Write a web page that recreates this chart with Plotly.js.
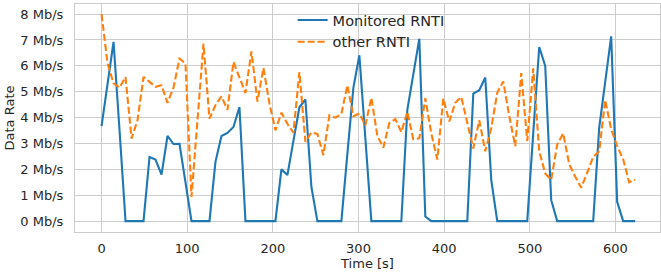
<!DOCTYPE html>
<html>
<head>
<meta charset="utf-8">
<script src="https://cdn.plot.ly/plotly-3.0.1.min.js"></script>
<style>html,body{margin:0;padding:0;background:#fff;}#chart{width:661px;height:274px;}</style>
</head>
<body>
<div id="chart"></div>
<script>
// Sampling: one value every 7 s
const times = [];
for (let i = 0; i < 90; i++) times.push(i * 7);

const monitoredRNTI = [
  3.67, 5.3, 6.93, 3.5, 0, 0, 0, 0, 2.48, 2.38,
  1.8, 3.29, 2.98, 2.99, 1.5, 0, 0, 0, 0, 2.29,
  3.29, 3.41, 3.64, 4.41, 0, 0, 0, 0, 0, 0,
  2.0, 1.78, 3.1, 4.4, 4.7, 1.32, 0, 0, 0, 0,
  0, 2.6, 5.15, 6.41, 3.2, 0, 0, 0, 0, 0,
  0, 4.3, 5.7, 7.05, 0.18, 0, 0, 0, 0, 0,
  0, 0, 4.93, 5.06, 5.55, 1.58, 0, 0, 0, 0,
  0, 0, 3.4, 6.73, 6.0, 0.81, 0, 0, 0, 0,
  0, 0, 0, 3.6, 5.4, 7.14, 0.75, 0, 0, 0
];

const otherRNTI = [
  8.0, 6.1, 5.32, 5.16, 5.57, 3.19, 3.9, 5.57, 5.38, 5.19,
  5.25, 4.57, 5.16, 6.28, 6.09, 0.94, 3.9, 6.86, 3.96, 4.48,
  4.82, 4.3, 6.15, 5.55, 4.95, 6.56, 4.62, 5.92, 4.55, 3.51,
  4.19, 3.76, 3.42, 5.76, 3.06, 3.43, 3.37, 2.55, 4.09, 4.0,
  4.14, 5.25, 4.05, 4.16, 3.7, 4.77, 3.3, 2.84, 3.79, 3.94,
  3.44, 4.22, 3.16, 3.2, 4.75, 3.38, 2.38, 4.74, 3.85, 4.57,
  4.8, 3.8, 2.81, 3.9, 2.7, 3.6, 4.96, 5.4, 4.06, 2.9,
  5.72, 3.1, 5.9, 2.7, 1.84, 1.6, 2.96, 3.39, 2.2, 1.72,
  1.29, 1.87, 2.48, 2.7, 4.68, 3.55, 2.9, 2.39, 1.5, 1.6
];

const yTickVals = [0, 1, 2, 3, 4, 5, 6, 7, 8];
const yTickText = ["0 Mb/s", "1 Mb/s", "2 Mb/s", "3 Mb/s", "4 Mb/s", "5 Mb/s", "6 Mb/s", "7 Mb/s", "8 Mb/s"];
const xTickVals = [0, 100, 200, 300, 400, 500, 600];

const traces = [
  {x: times, y: monitoredRNTI, type: 'scatter', mode: 'lines', name: 'Monitored RNTI',
   line: {color: '#1f77b4', width: 2.1}},
  {x: times, y: otherRNTI, type: 'scatter', mode: 'lines', name: 'other RNTI',
   line: {color: '#ff7f0e', width: 2.1, dash: '7px,3px'}}
];

const layout = {
  width: 661, height: 274,
  margin: {l: 75, r: 1, t: 4, b: 42},
  paper_bgcolor: '#ffffff', plot_bgcolor: '#ffffff',
  font: {family: 'DejaVu Sans', size: 13, color: '#262626'},
  showlegend: true,
  legend: {x: 0.372, y: 1, xanchor: 'left', yanchor: 'top', bgcolor: 'rgba(0,0,0,0)',
           font: {size: 14.5, color: '#262626'}, tracegroupgap: 0},
  xaxis: {range: [-31, 652], tickvals: xTickVals, showgrid: true, gridcolor: '#cccccc', gridwidth: 1,
          zeroline: false, showline: true, linecolor: '#cccccc', linewidth: 1, mirror: true,
          ticks: '', ticklabelstandoff: 4,
          title: {text: 'Time [s]', font: {size: 13, color: '#262626'}, standoff: 2}},
  yaxis: {range: [-0.42, 8.39], tickvals: yTickVals, ticktext: yTickText, showgrid: true,
          gridcolor: '#cccccc', gridwidth: 1, zeroline: false, showline: true, linecolor: '#cccccc',
          linewidth: 1, mirror: true, ticks: '', ticklabelstandoff: 8,
          title: {text: 'Data Rate', font: {size: 13, color: '#262626'}, standoff: 2}}
};

Plotly.newPlot('chart', traces, layout, {staticPlot: true, displayModeBar: false});
</script>
</body>
</html>
